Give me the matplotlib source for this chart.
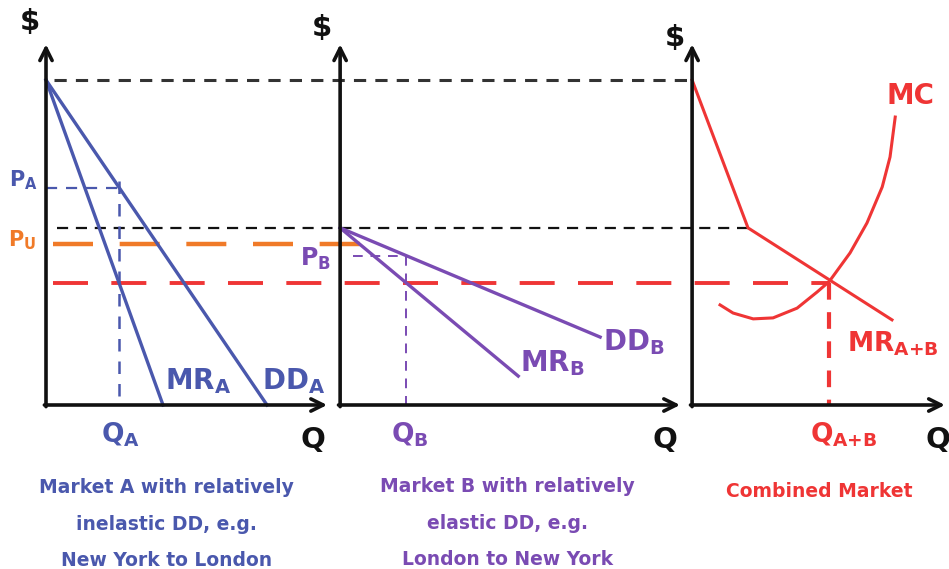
import matplotlib
matplotlib.use("Agg")
import matplotlib.pyplot as plt

# ---- data (price P, quantity Q, in diagram units) ----
P_TOP = 10.0          # intercept of DD_A / MR_A / MR_A+B
P_KINK = 5.45         # intercept of DD_B / MR_B (kink of combined MR)
P_U = 4.95            # uniform price
P_EQ = 3.75           # MC = MR level
# Market A
DDA_Q0 = 6.8
MRA_Q0 = 3.6
Q_A = 2.25
P_A = 6.69
# Market B
DDB_Q = [0.0, 8.0]
DDB_P = [5.45, 2.09]
MRB_Q = [0.0, 5.48]
MRB_P = [5.45, 0.89]
Q_B = 2.04
P_B = 4.59
# Combined market
MRAB_Q = [0.0, 1.72, 6.15]
MRAB_P = [10.0, 5.45, 2.62]
MC_Q = [0.86, 1.26, 1.88, 2.49, 3.23, 3.85, 4.22, 4.86, 5.38, 5.85, 6.09, 6.25]
MC_P = [3.08, 2.83, 2.65, 2.68, 2.98, 3.48, 3.80, 4.68, 5.60, 6.71, 7.63, 8.86]
Q_AB = 4.22

# ---- layout ----
OFF = [0.0, 9.05, 19.88]        # panel origins along x
XLEN = [8.65, 10.46, 7.78]      # x-axis lengths
YTOP = 11.1

BLUE = "#4a58ad"
PURPLE = "#7a4bb3"
RED = "#ef3535"
ORANGE = "#f07a28"
BLACK = "#111111"

fig = plt.figure(figsize=(9.49, 5.69), dpi=100)
ax = fig.add_axes([0, 0, 1, 1])
ax.set_xlim(-46 / 32.5, (949 - 46) / 32.5)
ax.set_ylim(-164 / 32.5, 405 / 32.5)
ax.axis("off")

FONT = "DejaVu Sans"

# axes with arrows
for o, L in zip(OFF, XLEN):
    ax.annotate("", xy=(o + L, 0), xytext=(o - 0.05, 0),
                arrowprops=dict(arrowstyle="->", lw=2.6, color=BLACK,
                                mutation_scale=22, shrinkA=0, shrinkB=0))
    ax.annotate("", xy=(o, YTOP), xytext=(o, -0.05),
                arrowprops=dict(arrowstyle="->", lw=2.6, color=BLACK,
                                mutation_scale=22, shrinkA=0, shrinkB=0))

# long dashed reference lines
ax.plot([0.25, OFF[2]], [P_TOP, P_TOP], color="#333333", lw=2.2,
        dashes=(4, 3))
ax.plot([0.35, OFF[2] + MRAB_Q[1]], [P_KINK, P_KINK], color=BLACK, lw=1.6,
        dashes=(5, 3.5))
ax.plot([0.2, OFF[1] + 1.05], [P_U, P_U], color=ORANGE, lw=3.2,
        dashes=(9, 6))
ax.plot([0.2, OFF[2] + Q_AB], [P_EQ, P_EQ], color=RED, lw=2.8,
        dashes=(9, 6))

# Market A
oa = OFF[0]
ax.plot([oa, oa + DDA_Q0], [P_TOP, 0], color=BLUE, lw=2.4)
ax.plot([oa, oa + MRA_Q0], [P_TOP, 0], color=BLUE, lw=2.4)
ax.plot([oa, oa + Q_A], [P_A, P_A], color=BLUE, lw=1.6, dashes=(5, 4))
ax.plot([oa + Q_A, oa + Q_A], [P_A + 0.2, 0], color=BLUE, lw=1.8,
        dashes=(5, 4))

# Market B
ob = OFF[1]
ax.plot([ob + q for q in DDB_Q], DDB_P, color=PURPLE, lw=2.4)
ax.plot([ob + q for q in MRB_Q], MRB_P, color=PURPLE, lw=2.4)
ax.plot([ob + 0.4, ob + Q_B], [P_B, P_B], color=PURPLE, lw=1.4,
        dashes=(5, 4))
ax.plot([ob + Q_B, ob + Q_B], [P_B, 0], color=PURPLE, lw=1.4,
        dashes=(5, 4))

# Combined market
oc = OFF[2]
ax.plot([oc + q for q in MRAB_Q], MRAB_P, color=RED, lw=2.2)
ax.plot([oc + q for q in MC_Q], MC_P, color=RED, lw=2.2,
        solid_joinstyle="round")
ax.plot([oc + Q_AB, oc + Q_AB], [P_EQ, 0], color=RED, lw=3.0,
        dashes=(4, 3))

# labels
def lab(x, y, s, c, size=21, ha="center", va="center"):
    ax.text(x, y, s, color=c, fontsize=size, ha=ha, va=va,
            family=FONT, fontweight="bold")

for x, y in [(-0.49, 11.78), (8.49, 11.6), (19.35, 11.29)]:
    lab(x, y, "$", BLACK, size=21)
for x in [8.2, 19.05, 27.45]:
    lab(x, -1.08, "Q", BLACK, size=21)

lab(-0.7, 6.92, r"P$_\mathregular{A}$", BLUE, size=15)
lab(-0.75, 5.08, r"P$_\mathregular{U}$", ORANGE, size=15)
lab(8.3, 4.5, r"P$_\mathregular{B}$", PURPLE, size=17)
lab(2.28, -0.92, r"Q$_\mathregular{A}$", BLUE, size=19)
lab(11.2, -0.92, r"Q$_\mathregular{B}$", PURPLE, size=19)
lab(24.55, -0.92, r"Q$_\mathregular{A{+}B}$", RED, size=19)
lab(3.65, 0.75, r"MR$_\mathregular{A}$", BLUE, size=20, ha="left")
lab(6.65, 0.75, r"DD$_\mathregular{A}$", BLUE, size=20, ha="left")
lab(17.15, 1.95, r"DD$_\mathregular{B}$", PURPLE, size=20, ha="left")
lab(14.6, 1.3, r"MR$_\mathregular{B}$", PURPLE, size=20, ha="left")
lab(26.6, 9.5, "MC", RED, size=20)
lab(24.65, 1.9, r"MR$_\mathregular{A{+}B}$", RED, size=19, ha="left")

# captions
CAP_A = ["Market A with relatively", "inelastic DD, e.g.", "New York to London"]
CAP_B = ["Market B with relatively", "elastic DD, e.g.", "London to New York"]
CAP_C = ["Combined Market"]
CAP_Y = [-2.55, -3.69, -4.80]


def cap(x, lines, c, y0=0.0):
    for s, y in zip(lines, CAP_Y):
        ax.text(x, y + y0, s, color=c, fontsize=13.5, ha="center",
                va="center", family=FONT, fontweight="bold")


cap(3.72, CAP_A, BLUE)
cap(14.2, CAP_B, PURPLE, y0=0.05)
cap(23.78, CAP_C, RED, y0=-0.12)

fig.savefig("out.png", dpi=100)
